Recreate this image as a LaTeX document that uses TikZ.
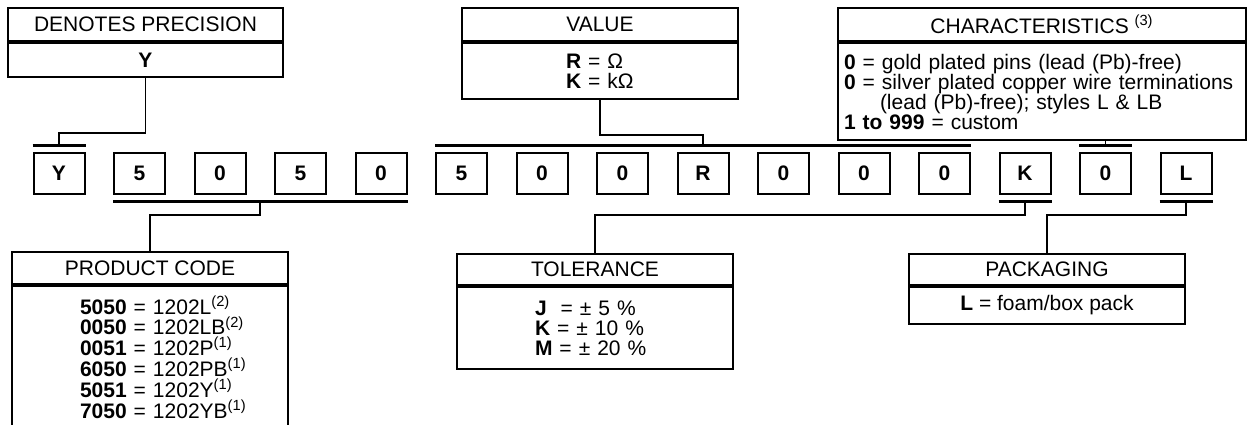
\documentclass[tikz,border=0pt]{standalone}
\usepackage{fontspec}
\setmainfont{Liberation Sans}
\usetikzlibrary{calc,positioning}
\tikzset{ hd/.style={draw,line width=1pt,inner sep=0pt,minimum height=16.5pt,anchor=north west},
  bd/.style={draw,line width=1pt,inner sep=0pt,anchor=north west,align=left},
  dg/.style={draw,line width=1pt,inner sep=0pt,minimum width=25.5pt,minimum height=20.5pt,font=\fontsize{10.5}{10}\selectfont\bfseries},
  bar/.style={line width=1.5pt},
  lnk/.style={line width=0.8pt} }

\begin{document}
\begin{tikzpicture}[x=0.5pt,y=-0.5pt,node distance=13.75pt,font=\fontsize{10.5}{10}\selectfont]
   \path[use as bounding box,clip] (0,0) rectangle (1255,424);
   % part number
   \node[dg] (d0) at (59,173.5) {Y};
   \node[dg,right=of d0] (d1) {5};
   \node[dg,right=of d1] (d2) {0};
   \node[dg,right=of d2] (d3) {5};
   \node[dg,right=of d3] (d4) {0};
   \node[dg,right=of d4] (d5) {5};
   \node[dg,right=of d5] (d6) {0};
   \node[dg,right=of d6] (d7) {0};
   \node[dg,right=of d7] (d8) {R};
   \node[dg,right=of d8] (d9) {0};
   \node[dg,right=of d9] (d10) {0};
   \node[dg,right=of d10] (d11) {0};
   \node[dg,right=of d11] (d12) {K};
   \node[dg,right=of d12] (d13) {0};
   \node[dg,right=of d13] (d14) {L};
   % bars
   \draw[bar] ([yshift=3.5pt]d0.north west) -- coordinate[midway] (bY) ([yshift=3.5pt]d0.north east);
   \draw[bar] ([yshift=3.5pt]d5.north west) -- coordinate[midway] (bR) ([yshift=3.5pt]d11.north east);
   \draw[bar] ([yshift=3.5pt]d13.north west) -- coordinate[midway] (bC) ([yshift=3.5pt]d13.north east);
   \draw[bar] ([yshift=-3pt]d1.south west) -- coordinate[midway] (bP) ([yshift=-3pt]d4.south east);
   \draw[bar] ([yshift=-3pt]d12.south west) -- coordinate[midway] (bK) ([yshift=-3pt]d12.south east);
   \draw[bar] ([yshift=-3pt]d14.south west) -- coordinate[midway] (bL) ([yshift=-3pt]d14.south east);
   % top boxes
   \node[hd,minimum width=137.5pt] (prech) at (7,7) {DENOTES PRECISION};
   \node[bd,minimum width=137.5pt,minimum height=17pt] (precb) at (prech.south west) {\textbf{Y}};
   \node[hd,minimum width=138pt] (valh) at (461,7) {VALUE};
   \node[bd,minimum width=138pt,minimum height=28pt,text width=34pt] (valb) at (valh.south west)
      {\textbf{R} = Ω\\\textbf{K} = kΩ};
   \node[hd,minimum width=204pt] (charh) at (837,7) {CHARACTERISTICS \textsuperscript{(3)}};
   \node[bd,minimum width=204pt,minimum height=48.5pt,text width=198pt] (charb) at (charh.south west)
      {\textbf{0} = gold plated pins (lead (Pb)-free)\\
       \textbf{0} = silver plated copper wire terminations\\
       \hspace*{18pt}(lead (Pb)-free); styles L \& LB\\
       \textbf{1 to 999} = custom};
   % bottom boxes
   \node[hd,minimum width=138pt,minimum height=16pt] (prodh) at (11,251) {PRODUCT CODE};
   \node[bd,minimum width=138pt,minimum height=80pt] (prodb) at (prodh.south west) {};
   \node[align=left,inner sep=0pt,text width=86pt,font=\fontsize{10.5}{9.35}\selectfont] (prodt) at (166,357)
      {\textbf{5050} = 1202L\textsuperscript{(2)}\\
       \textbf{0050} = 1202LB\textsuperscript{(2)}\\
       \textbf{0051} = 1202P\textsuperscript{(1)}\\
       \textbf{6050} = 1202PB\textsuperscript{(1)}\\
       \textbf{5051} = 1202Y\textsuperscript{(1)}\\
       \textbf{7050} = 1202YB\textsuperscript{(1)}};
   \node[hd,minimum width=138pt,minimum height=15.5pt] (tolh) at (456,253) {TOLERANCE};
   \node[bd,minimum width=138pt,minimum height=41pt,text width=60pt] (tolb) at (tolh.south west)
      {\textbf{J}\ \ = ± 5 \%\\\textbf{K} = ± 10 \%\\\textbf{M} = ± 20 \%};
   \node[hd,minimum width=138pt,minimum height=15.5pt] (packh) at (908,253) {PACKAGING};
   \node[bd,minimum width=138pt,minimum height=18.5pt] (packb) at (packh.south west) {\textbf{L} = foam/box pack};
   % links
   \draw[lnk] (precb.south) -- ++(0,-27.5pt) -| (bY);
   \draw[lnk] (valb.south) -- ++(0,-17.5pt) -| (bR);
   \draw[lnk] (bC) -- (bC |- charb.south);
   \draw[lnk] (bP) -- ++(0,-7pt) -| (prodh.north);
   \draw[lnk] (bK) -- ++(0,-7pt) -| (tolh.north);
   \draw[lnk] (bL) -- ++(0,-7pt) -| (packh.north);
\end{tikzpicture}
\end{document}
